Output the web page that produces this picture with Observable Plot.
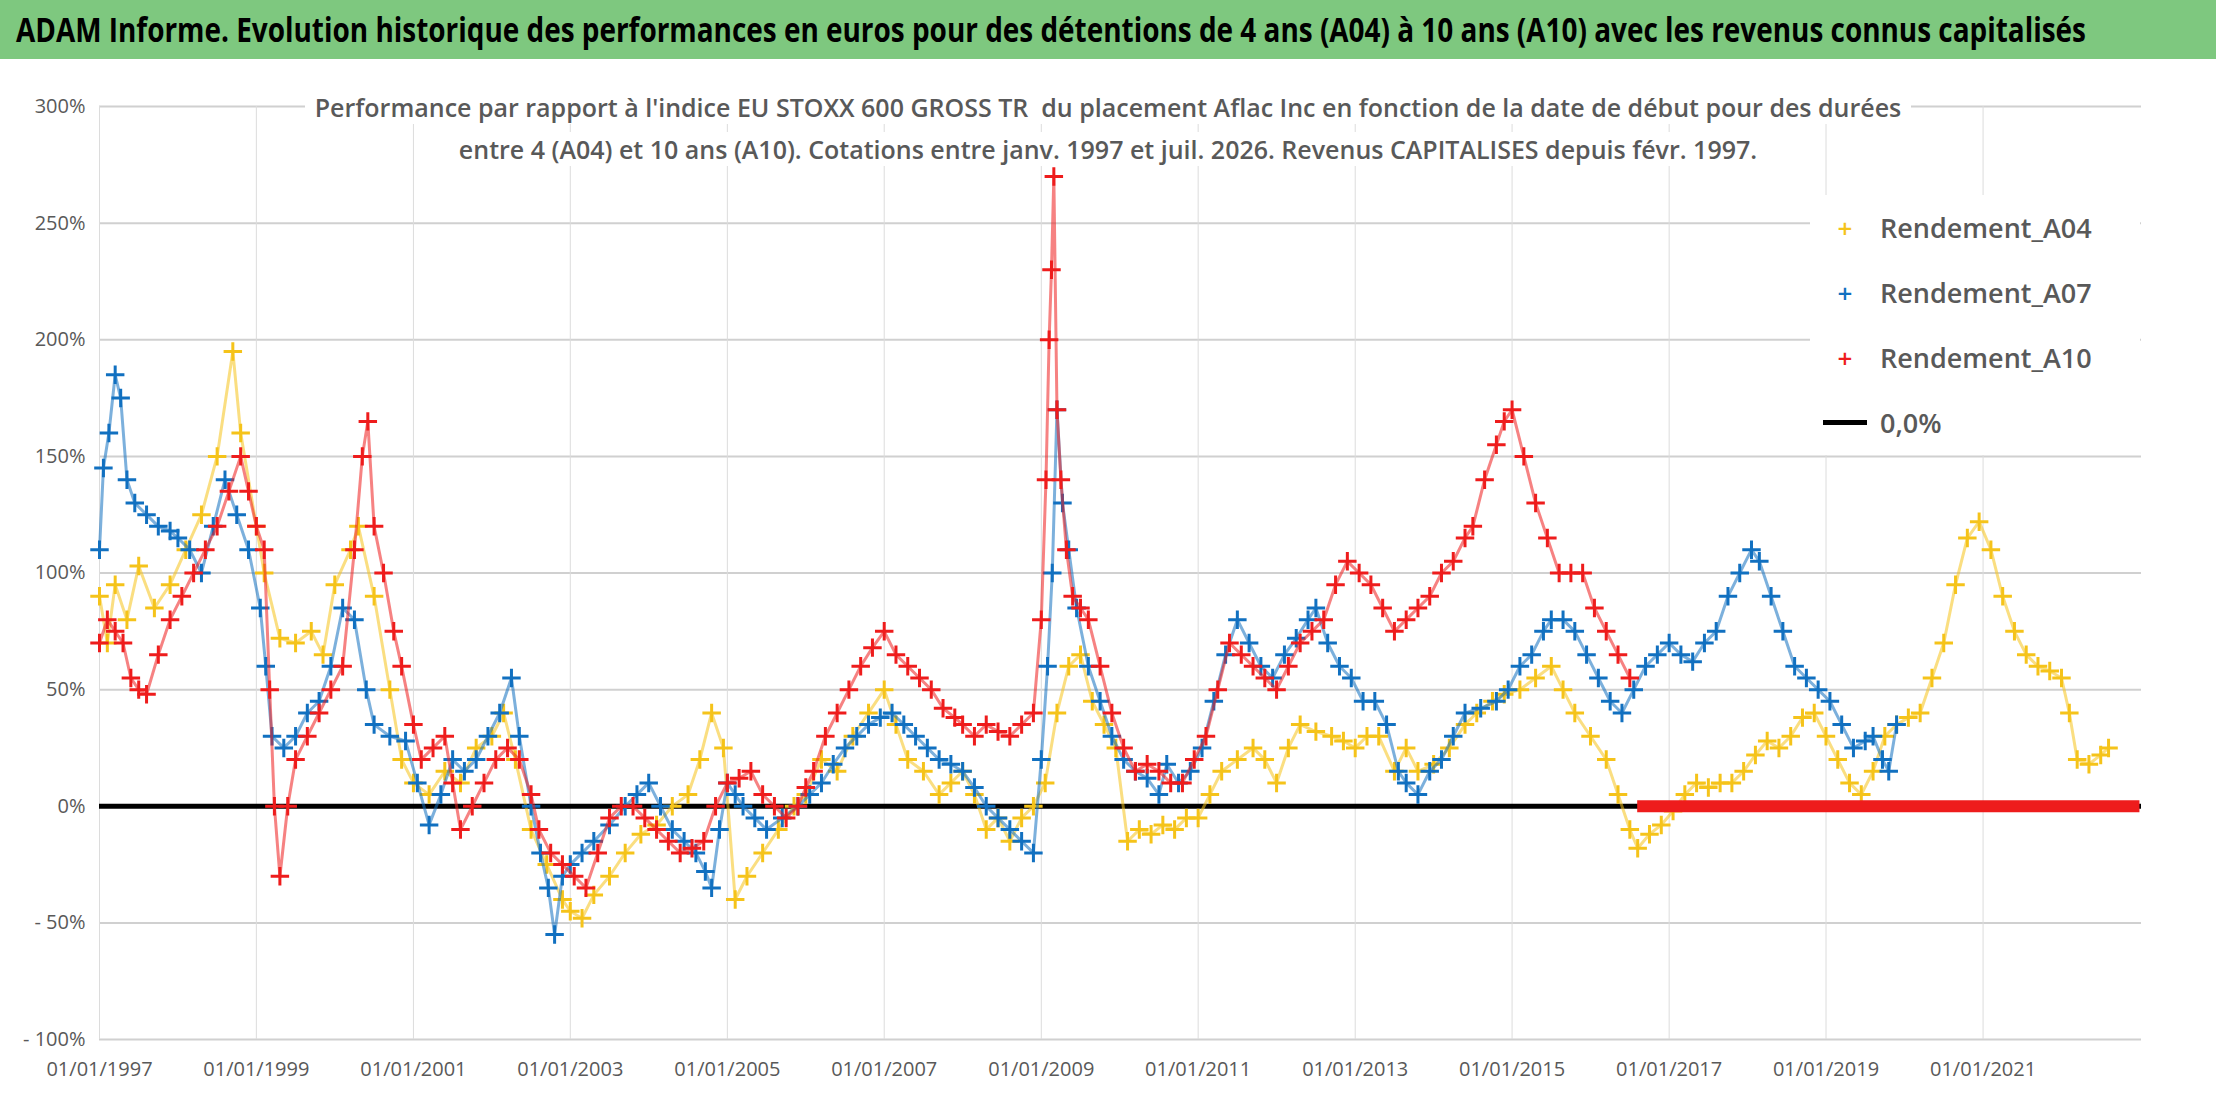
<!DOCTYPE html>
<html><head><meta charset="utf-8">
<script src="https://cdn.jsdelivr.net/npm/d3@7"></script>
<script src="https://cdn.jsdelivr.net/npm/@observablehq/plot@0.6"></script>
<style>
body{margin:0;background:#fff;font-family:"Liberation Sans Narrow","Open Sans",sans-serif;}
#wrap{position:relative;width:2216px;height:1102px;overflow:hidden;}
#title{position:absolute;left:0;top:0;width:2216px;height:59px;background:#7ec87f;}
#sub{position:absolute;left:0;width:2216px;text-align:center;top:86px;font-size:25px;line-height:42px;color:#595959;font-weight:600;}
#sub span{background:#fff;padding:0 10px;}
#legend{position:absolute;left:1810px;top:195px;width:330px;background:#fff;font-size:27px;color:#595959;font-weight:600;}
.li{height:65px;display:flex;align-items:center;}
.mk{width:70px;text-align:center;font-size:26px;}
#chart{position:absolute;left:0;top:60px;}
</style></head><body>
<div id="wrap">
<div id="title"><svg width="2216" height="59"><text x="16" y="42" textLength="2070" lengthAdjust="spacingAndGlyphs" font-size="34" font-weight="bold" font-family="Liberation Sans Narrow, Open Sans, sans-serif">ADAM Informe. Evolution historique des performances en euros pour des détentions de 4 ans (A04) à 10 ans (A10) avec les revenus connus capitalisés</text></svg></div>
<div id="chart"></div>
<div id="sub"><span>Performance par rapport à l'indice EU STOXX 600 GROSS TR&nbsp; du placement Aflac Inc en fonction de la date de début pour des durées</span><br><span>entre 4 (A04) et 10 ans (A10). Cotations entre janv. 1997 et juil. 2026. Revenus CAPITALISES depuis févr. 1997.</span></div>
<div id="legend">
<div class="li"><div class="mk" style="color:#f5c31a">+</div>Rendement_A04</div>
<div class="li"><div class="mk" style="color:#1170c0">+</div>Rendement_A07</div>
<div class="li"><div class="mk" style="color:#ee1c1c">+</div>Rendement_A10</div>
<div class="li"><div class="mk"><div style="width:44px;height:5px;background:#000;margin:0 auto"></div></div>0,0%</div>
</div>
</div>
<script>
// [decimal year, performance %]
const a04 = [[1997.0,90],[1997.1,70],[1997.2,95],[1997.35,80],[1997.5,103],[1997.7,85],[1997.9,95],[1998.1,110],[1998.3,125],[1998.5,150],[1998.7,195],[1998.8,160],[1999.0,120],[1999.1,100],[1999.3,72],[1999.5,70],[1999.7,75],[1999.85,65],[2000.0,95],[2000.2,110],[2000.3,120],[2000.5,90],[2000.7,50],[2000.85,20],[2001.0,10],[2001.2,5],[2001.4,15],[2001.6,10],[2001.8,25],[2002.0,30],[2002.15,40],[2002.3,20],[2002.5,-10],[2002.7,-25],[2002.9,-40],[2003.0,-45],[2003.15,-48],[2003.3,-38],[2003.5,-30],[2003.7,-20],[2003.9,-12],[2004.1,-8],[2004.3,0],[2004.5,5],[2004.65,20],[2004.8,40],[2004.95,25],[2005.1,-40],[2005.25,-30],[2005.45,-20],[2005.65,-10],[2005.85,0],[2006.0,5],[2006.2,20],[2006.4,15],[2006.6,30],[2006.8,40],[2007.0,50],[2007.15,35],[2007.3,20],[2007.5,15],[2007.7,5],[2007.85,10],[2008.0,15],[2008.15,5],[2008.3,-10],[2008.45,-5],[2008.6,-15],[2008.75,-5],[2008.9,0],[2009.05,10],[2009.2,40],[2009.35,60],[2009.5,65],[2009.65,45],[2009.8,35],[2009.95,25],[2010.1,-15],[2010.25,-10],[2010.4,-12],[2010.55,-8],[2010.7,-10],[2010.85,-5],[2011.0,-5],[2011.15,5],[2011.3,15],[2011.5,20],[2011.7,25],[2011.85,20],[2012.0,10],[2012.15,25],[2012.3,35],[2012.5,32],[2012.7,30],[2012.85,28],[2013.0,25],[2013.15,30],[2013.3,30],[2013.5,15],[2013.65,25],[2013.8,15],[2014.0,18],[2014.2,25],[2014.4,35],[2014.55,40],[2014.75,45],[2014.9,48],[2015.1,50],[2015.3,55],[2015.5,60],[2015.65,50],[2015.8,40],[2016.0,30],[2016.2,20],[2016.35,5],[2016.5,-10],[2016.6,-18],[2016.75,-12],[2016.9,-8],[2017.05,-2],[2017.2,5],[2017.35,10],[2017.5,8],[2017.65,10],[2017.8,10],[2017.95,15],[2018.1,22],[2018.25,28],[2018.4,25],[2018.55,30],[2018.7,38],[2018.85,40],[2019.0,30],[2019.15,20],[2019.3,10],[2019.45,5],[2019.6,15],[2019.75,30],[2019.9,35],[2020.05,38],[2020.2,40],[2020.35,55],[2020.5,70],[2020.65,95],[2020.8,115],[2020.95,122],[2021.1,110],[2021.25,90],[2021.4,75],[2021.55,65],[2021.7,60],[2021.85,58],[2022.0,55],[2022.1,40],[2022.2,20],[2022.35,18],[2022.5,22],[2022.6,25]];
const a07 = [[1997.0,110],[1997.05,145],[1997.12,160],[1997.2,185],[1997.27,175],[1997.35,140],[1997.45,130],[1997.6,125],[1997.75,120],[1997.9,118],[1998.0,115],[1998.15,110],[1998.3,100],[1998.45,120],[1998.6,140],[1998.75,125],[1998.9,110],[1999.05,85],[1999.12,60],[1999.2,30],[1999.35,25],[1999.5,30],[1999.65,40],[1999.8,45],[1999.95,60],[2000.1,85],[2000.25,80],[2000.4,50],[2000.5,35],[2000.7,30],[2000.9,28],[2001.05,10],[2001.2,-8],[2001.35,5],[2001.5,20],[2001.65,15],[2001.8,20],[2001.95,30],[2002.1,40],[2002.25,55],[2002.35,30],[2002.5,0],[2002.62,-20],[2002.72,-35],[2002.8,-55],[2002.9,-30],[2003.0,-25],[2003.15,-20],[2003.3,-15],[2003.5,-8],[2003.7,0],[2003.85,5],[2004.0,10],[2004.15,0],[2004.3,-10],[2004.45,-15],[2004.6,-20],[2004.72,-28],[2004.8,-35],[2004.9,-10],[2005.0,10],[2005.1,5],[2005.2,0],[2005.35,-5],[2005.5,-10],[2005.7,-5],[2005.9,0],[2006.05,5],[2006.2,10],[2006.35,18],[2006.5,25],[2006.65,30],[2006.8,35],[2006.95,38],[2007.1,40],[2007.25,35],[2007.4,30],[2007.55,25],[2007.7,20],[2007.85,18],[2008.0,15],[2008.15,8],[2008.3,0],[2008.45,-5],[2008.6,-10],[2008.75,-15],[2008.9,-20],[2009.0,20],[2009.08,60],[2009.14,100],[2009.2,170],[2009.27,130],[2009.35,110],[2009.45,85],[2009.6,60],[2009.75,45],[2009.9,30],[2010.05,20],[2010.2,15],[2010.35,12],[2010.5,5],[2010.6,18],[2010.75,10],[2010.9,15],[2011.05,25],[2011.2,45],[2011.35,65],[2011.5,80],[2011.65,70],[2011.8,60],[2011.95,55],[2012.1,65],[2012.25,72],[2012.4,80],[2012.5,85],[2012.65,70],[2012.8,60],[2012.95,55],[2013.1,45],[2013.25,45],[2013.4,35],[2013.55,15],[2013.65,10],[2013.8,5],[2013.95,15],[2014.1,20],[2014.25,30],[2014.4,40],[2014.6,42],[2014.8,45],[2014.95,50],[2015.1,60],[2015.25,65],[2015.4,75],[2015.5,80],[2015.65,80],[2015.8,75],[2015.95,65],[2016.1,55],[2016.25,45],[2016.4,40],[2016.55,50],[2016.7,60],[2016.85,65],[2017.0,70],[2017.15,65],[2017.3,62],[2017.45,70],[2017.6,75],[2017.75,90],[2017.9,100],[2018.05,110],[2018.15,105],[2018.3,90],[2018.45,75],[2018.6,60],[2018.75,55],[2018.9,50],[2019.05,45],[2019.2,35],[2019.35,25],[2019.5,28],[2019.6,30],[2019.72,20],[2019.8,15],[2019.9,35]];
const a10 = [[1997.0,70],[1997.1,80],[1997.2,75],[1997.3,70],[1997.4,55],[1997.5,50],[1997.6,48],[1997.75,65],[1997.9,80],[1998.05,90],[1998.2,100],[1998.35,110],[1998.5,120],[1998.65,135],[1998.8,150],[1998.9,135],[1999.0,120],[1999.1,110],[1999.17,50],[1999.23,0],[1999.3,-30],[1999.4,0],[1999.5,20],[1999.65,30],[1999.8,40],[1999.95,50],[2000.1,60],[2000.25,110],[2000.35,150],[2000.42,165],[2000.5,120],[2000.62,100],[2000.75,75],[2000.85,60],[2001.0,35],[2001.1,20],[2001.25,25],[2001.4,30],[2001.5,10],[2001.6,-10],[2001.75,0],[2001.9,10],[2002.05,20],[2002.2,25],[2002.35,20],[2002.5,5],[2002.6,-10],[2002.75,-20],[2002.9,-25],[2003.05,-30],[2003.2,-35],[2003.35,-20],[2003.5,-5],[2003.65,0],[2003.8,0],[2003.95,-5],[2004.1,-10],[2004.25,-15],[2004.4,-20],[2004.55,-18],[2004.7,-15],[2004.85,0],[2005.0,10],[2005.15,12],[2005.3,15],[2005.45,5],[2005.6,0],[2005.75,-5],[2005.9,0],[2006.0,8],[2006.1,15],[2006.25,30],[2006.4,40],[2006.55,50],[2006.7,60],[2006.85,68],[2007.0,75],[2007.15,65],[2007.3,60],[2007.45,55],[2007.6,50],[2007.75,42],[2007.9,38],[2008.0,35],[2008.15,30],[2008.3,35],[2008.45,32],[2008.6,30],[2008.75,35],[2008.9,40],[2009.0,80],[2009.06,140],[2009.1,200],[2009.13,230],[2009.16,270],[2009.2,170],[2009.25,140],[2009.32,110],[2009.4,90],[2009.5,85],[2009.6,80],[2009.75,60],[2009.9,40],[2010.05,25],[2010.2,15],[2010.35,18],[2010.5,15],[2010.65,10],[2010.8,10],[2010.95,20],[2011.1,30],[2011.25,50],[2011.4,70],[2011.55,65],[2011.7,60],[2011.85,55],[2012.0,50],[2012.15,60],[2012.3,70],[2012.45,75],[2012.6,80],[2012.75,95],[2012.9,105],[2013.05,100],[2013.2,95],[2013.35,85],[2013.5,75],[2013.65,80],[2013.8,85],[2013.95,90],[2014.1,100],[2014.25,105],[2014.4,115],[2014.5,120],[2014.65,140],[2014.8,155],[2014.9,165],[2015.0,170],[2015.15,150],[2015.3,130],[2015.45,115],[2015.6,100],[2015.75,100],[2015.9,100],[2016.05,85],[2016.2,75],[2016.35,65],[2016.5,55]];
const a10ZeroSpan = [2016.6, 2023.0];
const yTicks = [-100,-50,0,50,100,150,200,250,300];
const xTickYears = [1997,1999,2001,2003,2005,2007,2009,2011,2013,2015,2017,2019,2021];

const toDate = y => { const yr = Math.floor(y); const s = Date.UTC(yr,0,1), e = Date.UTC(yr+1,0,1); return new Date(s + (y-yr)*(e-s)); };
const rows = (arr) => arr.map(([t,v]) => ({date: toDate(t), v}));
const A04 = rows(a04), A07 = rows(a07), A10 = rows(a10);
const zeroSeg = [{x1: toDate(a10ZeroSpan[0]), x2: toDate(a10ZeroSpan[1]), y: 0}];
const fmtY = d => d < 0 ? `- ${-d}%` : `${d}%`;
const fmtX = d3.utcFormat("%d/%m/%Y");

const series = [[A04,"#f5c31a"],[A07,"#1170c0"],[A10,"#ee1c1c"]];
const marks = [
  Plot.gridY(yTicks, {stroke:"#d0d0d0", strokeOpacity:1, strokeWidth:2}),
  Plot.gridX(xTickYears.map(y=>toDate(y)), {stroke:"#dcdcdc", strokeOpacity:1}),
  Plot.ruleY([0], {stroke:"#000", strokeWidth:5}),
];
for (const [data,color] of series) {
  marks.push(Plot.line(data, {x:"date", y:"v", stroke:color, strokeWidth:3, strokeOpacity:0.55}));
  marks.push(Plot.dot(data, {x:"date", y:"v", symbol:"plus", r:6, stroke:color, strokeWidth:3}));
}
marks.push(Plot.ruleY(zeroSeg, {x1:"x1", x2:"x2", y:"y", stroke:"#ee1c1c", strokeWidth:12}));

const chart = Plot.plot({
  width: 2216, height: 1042,
  marginLeft: 99, marginRight: 75, marginTop: 46, marginBottom: 63,
  style: {fontFamily: "Liberation Sans Narrow, Open Sans, sans-serif", fontSize: "20px", color:"#595959", background:"#fff"},
  x: {type:"utc", domain:[toDate(1997.0), toDate(2023.02)], ticks: xTickYears.map(y=>toDate(y)), tickFormat: fmtX, tickSize:0, tickPadding:22, label:null},
  y: {domain:[-100,300], ticks: yTicks, tickFormat: fmtY, tickSize:0, tickPadding:14, label:null},
  marks
});
document.getElementById("chart").appendChild(chart);
</script>
</body></html>
